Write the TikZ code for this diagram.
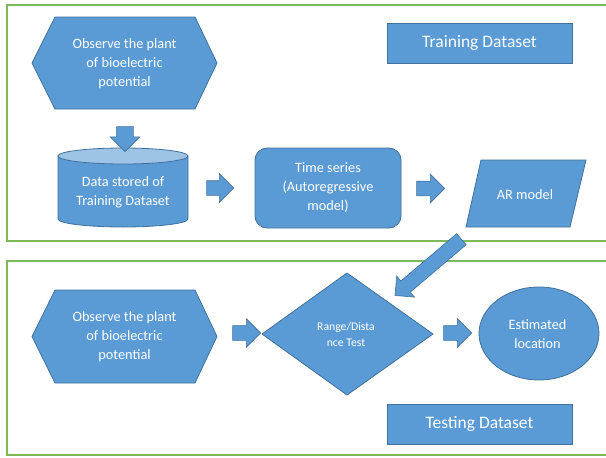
\documentclass[tikz,border=0pt]{standalone}
\usepackage{fontspec}
\setmainfont{Carlito}
\usetikzlibrary{shapes.arrows,shapes.geometric}
\definecolor{myblue}{HTML}{5B9BD5}
\definecolor{myborder}{HTML}{41719C}
\definecolor{mylight}{HTML}{9DC3E6}
\definecolor{mygreen}{HTML}{7CB95A}
\tikzset{
  blk/.style={fill=myblue, draw=myborder, line width=0.8pt},
  txt/.style={text=white, font=\fontsize{14.3}{19}\selectfont, align=center, inner sep=0pt},
  ttl/.style={text=white, font=\fontsize{17.5}{21}\selectfont, align=center, inner sep=0pt},
  frame/.style={draw=mygreen, line width=1.4pt},
  barrow/.style n args={3}{single arrow, fill=myblue, draw=myborder, line width=0.6pt,
     inner xsep=0pt, inner ysep=#2/2, minimum height=#1, minimum width=#3,
     single arrow head extend=(#3-#2)/2},
}
\begin{document}
\begin{tikzpicture}[x=1pt,y=-1pt]
\clip (0,0) rectangle (606,458);
\fill[white] (0,0) rectangle (606,458);
% frames
\draw[frame] (7,5) rectangle (615,241);
\draw[frame] (7,261) rectangle (615,455);

% top hexagon
\draw[blk] (32,63) -- (55,17) -- (195,17) -- (217,63) -- (195,109) -- (55,109) -- cycle;
\node[txt] (obs1) at (124.5,64) {Observe the plant\\of bioelectric\\potential};

% cylinder
\draw[blk] (58,156) -- (58,219) arc[start angle=180, end angle=360, x radius=65pt, y radius=8pt] -- (188,156) -- cycle;
\draw[fill=mylight, draw=myborder, line width=0.8pt] (123,156) ellipse [x radius=65pt, y radius=8pt];
\node[txt] (data) at (123,192) {Data stored of\\Training Dataset};

% time series
\draw[blk, rounded corners=12pt] (255,148) rectangle (401,228);
\node[txt] (ts) at (328,188) {Time series\\(Autoregressive\\model)};

% AR model parallelogram
\draw[blk] (466,227) -- (481,160) -- (586,160) -- (570,227) -- cycle;
\node[txt] (ar) at (525,195) {AR model};

% Training Dataset box
\draw[blk] (387,23) rectangle (572,63);
\node[ttl] (train) at (479.5,43) {Training Dataset};

% bottom hexagon
\draw[blk] (32,336.5) -- (55,290) -- (195,290) -- (217,336.5) -- (195,383) -- (55,383) -- cycle;
\node[txt] (obs2) at (124.5,337) {Observe the plant\\of bioelectric\\potential};

% diamond
\draw[blk] (262,334) -- (347,273) -- (433,334) -- (347,395) -- cycle;
\node[text=white, font=\fontsize{11.7}{16}\selectfont, align=center, inner sep=0pt] (rng) at (346,334) {Range/Dista\\nce Test};

% ellipse
\draw[blk] (539,333.5) ellipse [x radius=60pt, y radius=46.5pt];
\node[txt] (est) at (537.5,334.5) {Estimated\\location};

% Testing Dataset box
\draw[blk] (387,404) rectangle (572,444);
\node[ttl] (test) at (479.5,424) {Testing Dataset};

% block arrows
\node[barrow={25pt}{16pt}{29pt}, rotate=-90] (a0) at (125,135) {};
\node[barrow={27pt}{14pt}{28pt}] (a1) at (216.5,188) {};
\node[barrow={28pt}{14pt}{28pt}] (a2) at (427,188.5) {};
\node[barrow={28pt}{14pt}{28pt}] (a3) at (243,333) {};
\node[barrow={28pt}{14pt}{28pt}] (a4) at (454,333) {};
\node[barrow={87pt}{14pt}{27pt}, rotate=220.3] (a5) at (431,265) {};
\end{tikzpicture}
\end{document}
